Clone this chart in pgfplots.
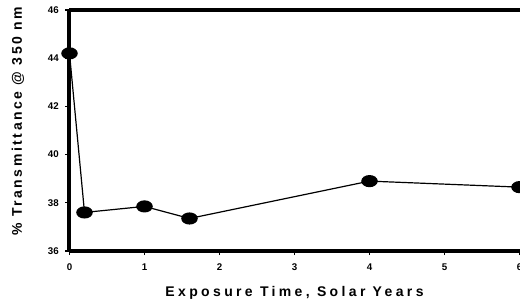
\documentclass[border=0pt]{standalone}
\usepackage{fontspec}
\setmainfont{Liberation Sans}
\newfontfamily\labfontx[LetterSpace=24]{Liberation Sans}
\newfontfamily\labfonty[LetterSpace=18]{Liberation Sans}
\usepackage{pgfplots}
\pgfplotsset{compat=1.18}
\begin{document}
\begin{tikzpicture}
\clip (-52.125pt,-42pt) rectangle (337.875pt,188.25pt);
\begin{axis}[
  scale only axis,
  width=337.5pt, height=180.75pt,
  xmin=0, xmax=6, ymin=36, ymax=46,
  xtick={0,1,2,3,4,5,6},
  ytick={36,38,40,42,44,46},
  axis x line*=box,
  axis y line*=left,
  axis line style={line width=3pt},
  tick align=outside,
  major tick length=3pt,
  every tick/.style={black, line width=0.8pt},
  xtick pos=bottom,
  ytick pos=left,
  /pgf/number format/assume math mode=true,
  tick label style={font=\fontsize{7.3}{8}\selectfont\bfseries},
  xticklabel style={yshift=-3pt},
  yticklabel style={xshift=-1.5pt},
  xlabel={\labfontx\bfseries Exposure Time, Solar Years},
  ylabel={\labfonty\bfseries\% Transmittance @ 350 nm},
  label style={font=\fontsize{10.5}{12}\selectfont},
  xlabel style={at={(axis description cs:0.5,-0.173)}, anchor=center},
  ylabel style={at={(axis description cs:-0.1144,0.539)}, anchor=center},
  clip=false,
]
\addplot[black, line width=0.9pt, mark=*, mark size=4.1pt,
  mark options={xscale=1.4, fill=black}]
  coordinates {
  (0,44.2) (0.2,37.6) (1,37.85) (1.6,37.35) (4,38.9) (6,38.65)
};
\end{axis}
\end{tikzpicture}
\end{document}
